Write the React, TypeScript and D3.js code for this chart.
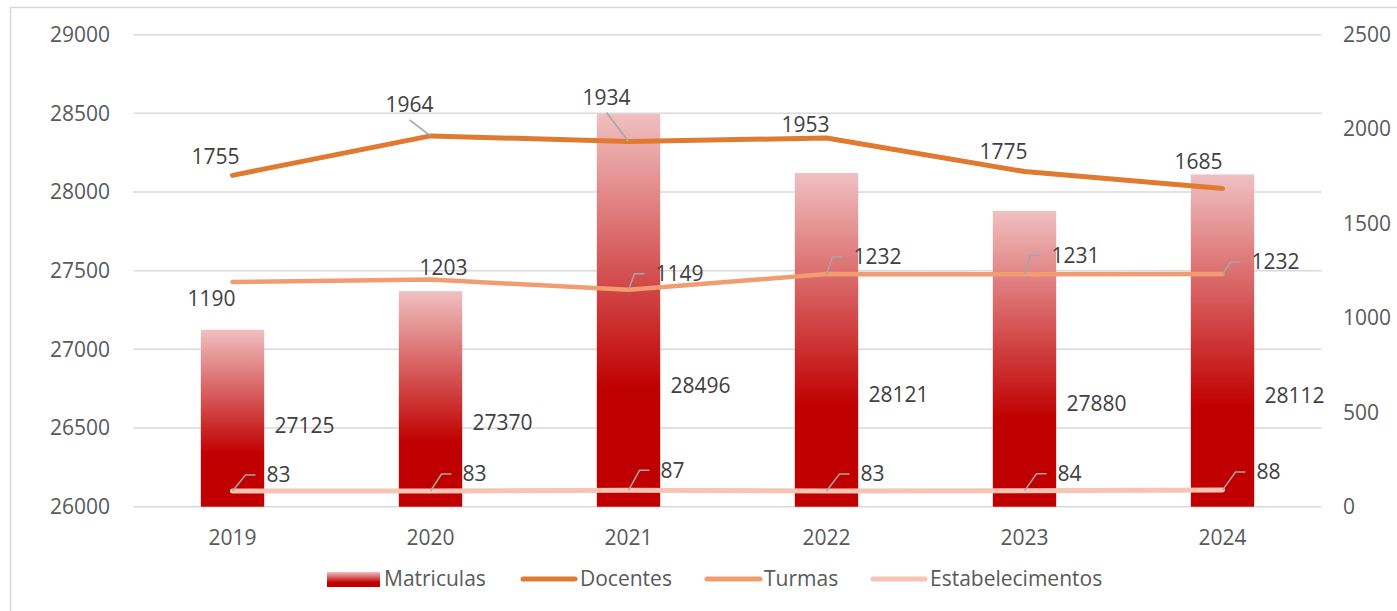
import React from 'react';
import * as d3 from 'd3';

const categories = ['2019', '2020', '2021', '2022', '2023', '2024'];
const matriculas = [27125, 27370, 28496, 28121, 27880, 28112];
const docentes = [1755, 1964, 1934, 1953, 1775, 1685];
const turmas = [1190, 1203, 1149, 1232, 1231, 1232];
const estabelecimentos = [83, 83, 87, 83, 84, 88];
const leftTicks = [26000, 26500, 27000, 27500, 28000, 28500, 29000];
const rightTicks = [0, 500, 1000, 1500, 2000, 2500];
const legendNames = ['Matriculas', 'Docentes', 'Turmas', 'Estabelecimentos'];

// label placement offsets (pixels, relative to the mark)
const matLabelOff = [96, 131, 272, 222, 193, 221];
const docLabelOff: [number, number, boolean][] = [
  [-17, -19, false], [-21, -31, true], [-22, -44, true], [-21, -13, false], [-21, -20, false], [-24, -27, false],
];
const turLabelOff: [number, number, boolean][] = [
  [-21, 17, false], [13, -12, false], [51, -16, true], [51, -17, true], [51, -19, true], [53, -12, true],
];
const estLabelOff: [number, number][] = [
  [46, -16], [44, -17], [44, -20], [46, -17], [45, -17], [46, -18],
];

const W = 1397;
const H = 611;
const FONT = "'Open Sans', 'Noto Sans', sans-serif";
const TICK = '#595959';
const LBL = '#404040';
const GRID = '#D9D9D9';
const C_DOC = '#E07A30';
const C_TUR = '#F29C72';
const C_EST = '#F7C3B2';

export default function App() {
  const x = d3.scaleBand<string>().domain(categories).range([133.5, 1321.5]).paddingInner(0.68).paddingOuter(0.34);
  const yL = d3.scaleLinear().domain([26000, 29000]).range([506.7, 34.7]);
  const yR = d3.scaleLinear().domain([0, 2500]).range([506.7, 34.7]);
  const cx = (c: string) => (x(c) as number) + x.bandwidth() / 2;
  const line = d3.line<number>().x((_, i) => cx(categories[i])).y((d) => yR(d));

  const fs = 21;

  const leader = (px: number, py: number, lx: number, ly: number, key: string) => {
    // label on the right: elbow line from point up to label's left
    const textLeft = lx - 12;
    const elbowX = px + Math.min(14, Math.max(6, textLeft - px - 10));
    return (
      <polyline key={key} points={`${px},${py} ${elbowX},${ly} ${textLeft},${ly}`} fill="none" stroke="#A6A6A6" strokeWidth={1.5} />
    );
  };

  return (
    <svg width={W} height={H} style={{ position: 'absolute', left: 0, top: 0, background: '#fff' }} fontFamily={FONT}>
      <defs>
        <linearGradient id="barGrad" x1="0" y1="0" x2="0" y2="1">
          <stop offset="0" stopColor="#F0C0C1" />
          <stop offset="0.7" stopColor="#C00000" />
          <stop offset="1" stopColor="#C00000" />
        </linearGradient>
      </defs>
      <rect x={10.5} y={7.5} width={W} height={H} fill="none" stroke={GRID} strokeWidth={1.5} />

      {leftTicks.map((t) => (
        <line key={'g' + t} x1={133.5} x2={1321.5} y1={yL(t)} y2={yL(t)} stroke={GRID} strokeWidth={1.5} />
      ))}
      {leftTicks.map((t) => (
        <text key={'lt' + t} x={110} y={yL(t)} dy="0.35em" textAnchor="end" fontSize={fs} fill={TICK}>{t}</text>
      ))}
      {rightTicks.map((t) => (
        <text key={'rt' + t} x={1343} y={yR(t)} dy="0.35em" textAnchor="start" fontSize={fs} fill={TICK}>{t}</text>
      ))}
      {categories.map((c) => (
        <text key={'c' + c} x={cx(c)} y={538} dy="0.35em" textAnchor="middle" fontSize={fs} fill={TICK}>{c}</text>
      ))}

      {matriculas.map((v, i) => (
        <rect key={'b' + i} x={x(categories[i])} y={yL(v)} width={x.bandwidth()} height={yL(26000) - yL(v)} fill="url(#barGrad)" />
      ))}

      <path d={line(estabelecimentos) || ''} fill="none" stroke={C_EST} strokeWidth={5} strokeLinecap="round" strokeLinejoin="round" />
      <path d={line(turmas) || ''} fill="none" stroke={C_TUR} strokeWidth={4.5} strokeLinecap="round" strokeLinejoin="round" />
      <path d={line(docentes) || ''} fill="none" stroke={C_DOC} strokeWidth={5} strokeLinecap="round" strokeLinejoin="round" />

      {matriculas.map((v, i) => (
        <text key={'ml' + i} x={cx(categories[i]) + 72} y={yL(v) + matLabelOff[i]} dy="0.35em" textAnchor="middle" fontSize={fs} fill={LBL}>{v}</text>
      ))}

      {docentes.map((v, i) => {
        const px = cx(categories[i]);
        const py = yR(v);
        const [dx, dy, ld] = docLabelOff[i];
        return (
          <g key={'dl' + i}>
            {ld && <line x1={px} y1={py} x2={px + dx} y2={py + dy + 15} stroke="#A6A6A6" strokeWidth={1.5} />}
            <text x={px + dx} y={py + dy} dy="0.35em" textAnchor="middle" fontSize={fs} fill={LBL}>{v}</text>
          </g>
        );
      })}

      {turmas.map((v, i) => {
        const px = cx(categories[i]);
        const py = yR(v);
        const [dx, dy, ld] = turLabelOff[i];
        const lx = px + dx;
        const ly = py + dy;
        return (
          <g key={'tl' + i}>
            {ld && leader(px, py, lx - 23, ly, 'tld' + i)}
            <text x={lx} y={ly} dy="0.35em" textAnchor="middle" fontSize={fs} fill={LBL}>{v}</text>
          </g>
        );
      })}

      {estabelecimentos.map((v, i) => {
        const px = cx(categories[i]);
        const py = yR(v);
        const [dx, dy] = estLabelOff[i];
        const lx = px + dx;
        const ly = py + dy;
        return (
          <g key={'el' + i}>
            {leader(px, py, lx - 11, ly, 'eld' + i)}
            <text x={lx} y={ly} dy="0.35em" textAnchor="middle" fontSize={fs} fill={LBL}>{v}</text>
          </g>
        );
      })}

      {/* legend */}
      <g>
        <rect x={327} y={572} width={53} height={15} fill="url(#barGrad)" />
        <text x={384} y={579} dy="0.35em" fontSize={fs} fill={TICK}>{legendNames[0]}</text>
        <line x1={523} x2={575} y1={579} y2={579} stroke={C_DOC} strokeWidth={5} strokeLinecap="round" />
        <text x={580} y={579} dy="0.35em" fontSize={fs} fill={TICK}>{legendNames[1]}</text>
        <line x1={707} x2={760} y1={579} y2={579} stroke={C_TUR} strokeWidth={5} strokeLinecap="round" />
        <text x={764} y={579} dy="0.35em" fontSize={fs} fill={TICK}>{legendNames[2]}</text>
        <line x1={873} x2={925} y1={579} y2={579} stroke={C_EST} strokeWidth={5} strokeLinecap="round" />
        <text x={930} y={579} dy="0.35em" fontSize={fs} fill={TICK}>{legendNames[3]}</text>
      </g>
    </svg>
  );
}
